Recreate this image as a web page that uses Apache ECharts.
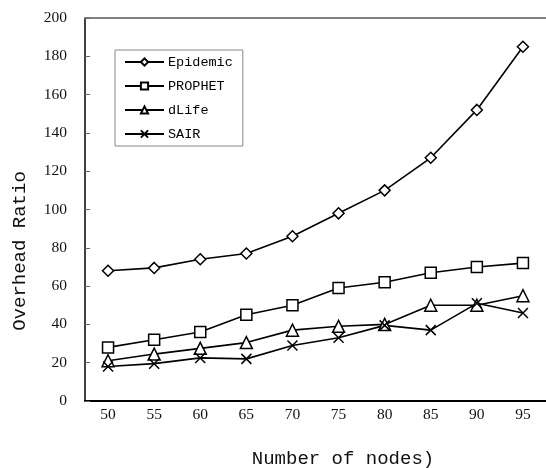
<!DOCTYPE html>
<html><head><meta charset="utf-8">
<script src="https://cdn.jsdelivr.net/npm/echarts@6/dist/echarts.min.js"></script>
<style>html,body{margin:0;padding:0;background:#fff}#c{width:546px;height:468px}</style>
</head><body><div id="c"></div>
<script>
var categories = ['50','55','60','65','70','75','80','85','90','95'];
var epidemic = [68, 69.5, 74, 77, 86, 98, 110, 127, 152, 185];
var prophet  = [28, 32, 36, 45, 50, 59, 62, 67, 70, 72];
var dlife    = [21, 24.5, 27.5, 30.5, 37, 39, 40, 50, 50, 55];
var sair     = [18, 19.5, 22.5, 22, 29, 33, 39.5, 37, 51, 46];
var yTicks = {min: 0, max: 200, interval: 20};

var chart = echarts.init(document.getElementById('c'), null, {renderer: 'canvas'});
var crossPath = 'path://M0,0L10,10M10,0L0,10';
function mk(name, data, symbol, size) {
  return {
    name: name, type: 'line', data: data, symbol: symbol, symbolSize: size,
    showAllSymbol: true,
    lineStyle: {color: '#000', width: 1.6},
    itemStyle: {color: '#fff', borderColor: '#000', borderWidth: 1.5},
    emphasis: {disabled: true}, animation: false, z: 3
  };
}
chart.setOption({
  animation: false,
  backgroundColor: '#fff',
  grid: {left: 85, top: 18, width: 476, height: 383, containLabel: false},
  legend: {
    left: 115, top: 50, orient: 'vertical',
    itemWidth: 39, itemHeight: 9, itemGap: 10,
    padding: [5, 10, 5, 9],
    borderColor: '#888', borderWidth: 1, backgroundColor: '#fff',
    textStyle: {fontFamily: 'Liberation Mono', fontSize: 13.5, color: '#000', padding: [0,0,0,-1]},
    data: ['Epidemic', 'PROPHET', 'dLife', 'SAIR']
  },
  xAxis: [{
    type: 'category', data: categories, boundaryGap: true,
    axisLine: {lineStyle: {color: '#000', width: 2}},
    axisTick: {inside: true, length: 5, lineStyle: {color: '#666', width: 1}},
    axisLabel: {margin: 6, fontFamily: 'Liberation Serif', fontSize: 15.5, color: '#111'},
    splitLine: {show: false}
  }, {
    type: 'category', data: categories, position: 'top',
    axisLine: {lineStyle: {color: '#808080', width: 2}},
    axisTick: {show: false}, axisLabel: {show: false}, splitLine: {show: false}
  }],
  yAxis: {
    type: 'value', min: yTicks.min, max: yTicks.max, interval: yTicks.interval,
    axisLine: {show: true, lineStyle: {color: '#000', width: 1.5}},
    axisTick: {show: true, inside: true, length: 5, lineStyle: {color: '#666', width: 1}},
    axisLabel: {margin: 18, fontFamily: 'Liberation Serif', fontSize: 15.5, color: '#111'},
    splitLine: {show: false}
  },
  graphic: [
    {type: 'text', x: 20, y: 251, rotation: Math.PI / 2,
     style: {text: 'Overhead Ratio', font: '19px "Liberation Mono"', fill: '#111', align: 'center', verticalAlign: 'middle'}},
    {type: 'text', x: 343, y: 459,
     style: {text: 'Number of nodes)', font: '19px "Liberation Mono"', fill: '#111', align: 'center', verticalAlign: 'middle'}}
  ],
  series: [
    mk('Epidemic', epidemic, 'diamond', 11),
    mk('PROPHET', prophet, 'rect', 11),
    mk('dLife', dlife, 'triangle', 12),
    mk('SAIR', sair, crossPath, 10)
  ]
});
</script></body></html>
